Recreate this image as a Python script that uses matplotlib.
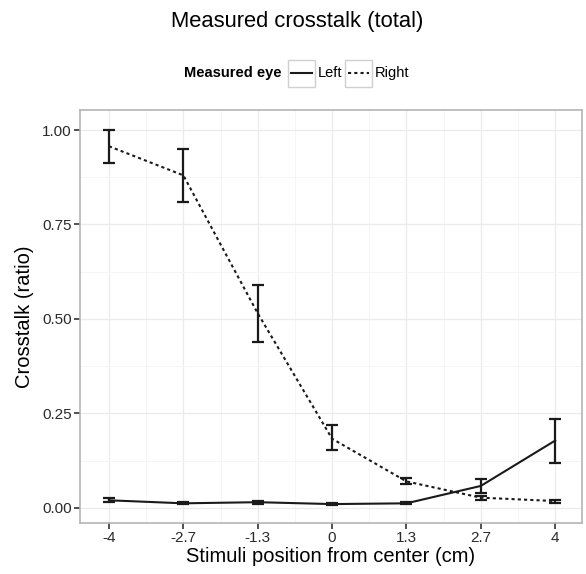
import matplotlib.pyplot as plt
from matplotlib.patches import Rectangle
from matplotlib.lines import Line2D

plt.rcParams['font.family'] = ['Liberation Sans', 'DejaVu Sans']

# positions of the stimuli (cm), shown as evenly spaced categories
tick_labels = ["-4", "-2.7", "-1.3", "0", "1.3", "2.7", "4"]
xs = list(range(len(tick_labels)))

# left eye crosstalk, with error bar bounds
left_mean = [0.020, 0.012, 0.015, 0.010, 0.012, 0.058, 0.178]
left_lo = [0.015, 0.009, 0.011, 0.007, 0.009, 0.040, 0.120]
left_hi = [0.025, 0.015, 0.019, 0.013, 0.015, 0.077, 0.235]

# right eye crosstalk, with error bar bounds
right_mean = [0.957, 0.880, 0.515, 0.183, 0.070, 0.027, 0.018]
right_lo = [0.912, 0.810, 0.440, 0.152, 0.063, 0.022, 0.014]
right_hi = [1.000, 0.950, 0.590, 0.218, 0.078, 0.032, 0.022]

fig = plt.figure(figsize=(5.86, 5.74), dpi=100)
ax = fig.add_axes([0.1365, 0.0889, 0.8565, 0.7195])

def draw(mean, lo, hi, ls):
    err = [[m - l for m, l in zip(mean, lo)], [h - m for m, h in zip(mean, hi)]]
    ax.plot(xs, mean, color='#1a1a1a', lw=1.5, linestyle=ls, zorder=3)
    ax.errorbar(xs, mean, yerr=err, fmt='none', ecolor='#1a1a1a',
                elinewidth=1.6, capsize=4.3, capthick=1.6, zorder=3)

draw(left_mean, left_lo, left_hi, '-')
draw(right_mean, right_lo, right_hi, (0, (1.5, 1.5)))

ax.set_xlim(-0.39, 6.36)
ax.set_ylim(-0.04, 1.053)
ax.set_xticks(xs)
ax.set_xticklabels(tick_labels)
ax.set_yticks([0, 0.25, 0.5, 0.75, 1.0])
ax.set_yticklabels(["0.00", "0.25", "0.50", "0.75", "1.00"])
ax.set_xticks([x + 0.5 for x in xs[:-1]], minor=True)
ax.set_yticks([0.125, 0.375, 0.625, 0.875], minor=True)
ax.grid(which='major', color='#ebebeb', lw=0.9)
ax.grid(which='minor', color='#f5f5f5', lw=0.7)
ax.set_axisbelow(True)
ax.tick_params(which='minor', length=0)
ax.tick_params(which='major', length=4, width=1.2, color='#333333', pad=2,
               labelsize=11, labelcolor='#2a2a2a')
for s in ax.spines.values():
    s.set_color('#b5b5b5')
    s.set_linewidth(1.2)

ax.set_xlabel("Stimuli position from center (cm)", fontsize=14.5, labelpad=1)
ax.set_ylabel("Crosstalk (ratio)", fontsize=14.5, labelpad=6)

fig.text(0.507, 0.962, "Measured crosstalk (total)", ha='center', va='center',
         fontsize=15.8)

# legend drawn at the top like ggplot's horizontal legend
W, H = 586, 574
def fx(px):
    return px / W
def fy(py):
    return 1 - py / H

fig.text(fx(282), fy(73), "Measured eye", ha='right', va='center',
         fontsize=10.5, fontweight='bold')
for x0, ls, lab in [(288, '-', "Left"), (345, (0, (1.5, 1.5)), "Right")]:
    fig.patches.append(Rectangle((fx(x0), fy(87)), fx(27), 27 / H,
                                 transform=fig.transFigure, fill=False,
                                 edgecolor='#d0d0d0', lw=1))
    fig.lines.append(Line2D([fx(x0 + 3), fx(x0 + 24)], [fy(73), fy(73)],
                            transform=fig.transFigure, color='#1a1a1a',
                            lw=1.5, linestyle=ls))
    fig.text(fx(x0 + 30), fy(73), lab, ha='left', va='center', fontsize=10.5)

fig.savefig("out.png", dpi=100)
